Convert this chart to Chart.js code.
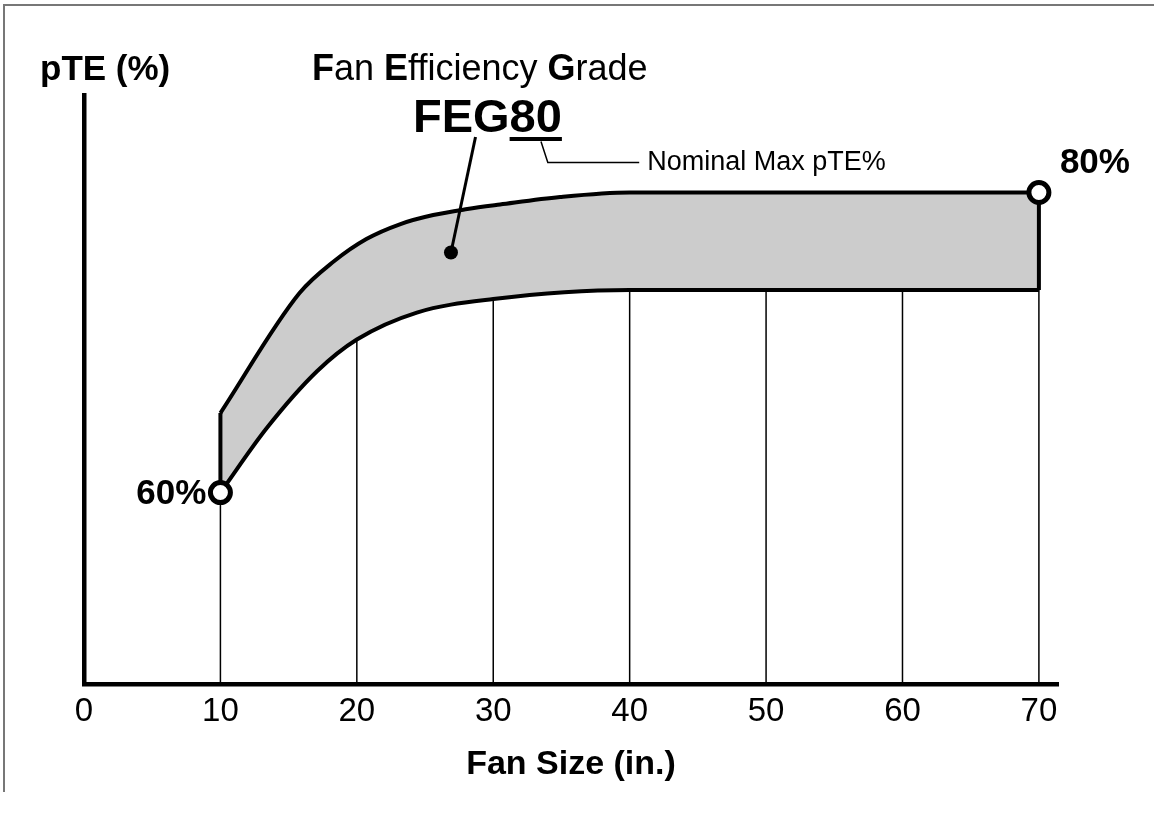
<!DOCTYPE html>
<html>
<head>
<meta charset="utf-8">
<script src="https://cdn.jsdelivr.net/npm/chart.js@4"></script>
<style>
  body { margin: 0; background: #fff; }
  #wrap { position: relative; width: 1154px; height: 813px; }
  #frame { position: absolute; left: 3px; top: 4px; width: 1151px; height: 786px;
           border-top: 2px solid #777; border-left: 2px solid #777; }
</style>
</head>
<body>
<div id="wrap">
  <div id="frame"></div>
  <canvas id="myChart"></canvas>
</div>
<script>
// fan size (in.) and pTE (%)
var upperX = [10, 15.8, 18.3, 20.7, 23.2, 25.6, 28.1, 30.5, 34.9, 40, 50, 60, 70];
var upperY = [65.3, 73.3, 75.4, 76.9, 77.9, 78.5, 78.9, 79.2, 79.7, 80, 80, 80, 80];
var lowerX = [10, 13.4, 17.1, 20, 24.4, 30, 40, 50, 60, 70];
var lowerY = [60, 64.3, 68.1, 70.2, 72.0, 72.9, 73.5, 73.5, 73.5, 73.5];
var xTicks = [0, 10, 20, 30, 40, 50, 60, 70];
var gridX = [10, 20, 30, 40, 50, 60, 70];
var yMin = 47.2, yMax = 86.5, xMin = 0, xMax = 71.4;

// annotation anchors (data space)
var pointerDot = {x: 26.9, y: 76.0};
var pointerTop = {x: 28.7, y: 83.7};
var leader = [{x: 33.5, y: 83.4}, {x: 34.0, y: 82.0}, {x: 40.7, y: 82.0}];

function pts(xs, ys) {
  var out = [];
  for (var i = 0; i < xs.length; i++) out.push({x: xs[i], y: ys[i]});
  return out;
}
function lowerAt(t) {
  var k = lowerX.indexOf(t);
  return lowerY[k];
}

var datasets = [];

// band: upper curve fills down to the lower curve
datasets.push({
  data: pts(upperX, upperY), borderColor: "#000", borderWidth: 4,
  backgroundColor: "#cccccc", fill: "+1", pointRadius: 0,
  cubicInterpolationMode: "monotone", order: 2
});
datasets.push({
  data: pts(lowerX, lowerY), borderColor: "#000", borderWidth: 4,
  fill: false, pointRadius: 0, cubicInterpolationMode: "monotone", order: 2
});

// end edges of the band
var nU = upperX.length - 1, nL = lowerX.length - 1;
datasets.push({
  data: [{x: lowerX[0], y: lowerY[0]}, {x: upperX[0], y: upperY[0]}],
  borderColor: "#000", borderWidth: 4, pointRadius: 0, fill: false, order: 2
});
datasets.push({
  data: [{x: lowerX[nL], y: lowerY[nL]}, {x: upperX[nU], y: upperY[nU]}],
  borderColor: "#000", borderWidth: 4, pointRadius: 0, fill: false, order: 2
});

// vertical lines from the axis up to the lower curve
for (var g = 0; g < gridX.length; g++) {
  datasets.push({
    data: [{x: gridX[g], y: yMin}, {x: gridX[g], y: lowerAt(gridX[g])}],
    borderColor: "#000", borderWidth: 1.5, pointRadius: 0, fill: false, order: 5
  });
}

// open circles at 60% and 80%
datasets.push({
  data: [{x: lowerX[0], y: lowerY[0]}, {x: upperX[nU], y: upperY[nU]}],
  showLine: false, pointRadius: 10, pointBorderWidth: 5,
  pointBorderColor: "#000", pointBackgroundColor: "#fff", fill: false, order: 0
});

var annot = {
  id: "annot",
  afterDatasetsDraw: function(chart) {
    var ctx = chart.ctx;
    var xs = chart.scales.x, ys = chart.scales.y;
    function px(p) { return [xs.getPixelForValue(p.x), ys.getPixelForValue(p.y)]; }
    ctx.save();
    ctx.fillStyle = "#000";
    ctx.strokeStyle = "#000";

    // pointer to the band
    var a = px(pointerDot), b = px(pointerTop);
    ctx.lineWidth = 3;
    ctx.beginPath(); ctx.moveTo(a[0], a[1]); ctx.lineTo(b[0], b[1]); ctx.stroke();
    ctx.beginPath(); ctx.arc(a[0], a[1], 7, 0, Math.PI * 2); ctx.fill();

    // leader to "Nominal Max pTE%"
    ctx.lineWidth = 1.5;
    ctx.beginPath();
    for (var i = 0; i < leader.length; i++) {
      var q = px(leader[i]);
      if (i === 0) ctx.moveTo(q[0], q[1]); else ctx.lineTo(q[0], q[1]);
    }
    ctx.stroke();
    var lastQ = px(leader[leader.length - 1]);
    ctx.font = "27px 'Liberation Sans', Arial, sans-serif";
    ctx.textBaseline = "middle";
    ctx.textAlign = "left";
    ctx.fillText("Nominal Max pTE%", lastQ[0] + 8, lastQ[1]);

    // point labels
    ctx.font = "bold 35px 'Liberation Sans', Arial, sans-serif";
    var p60 = px({x: lowerX[0], y: lowerY[0]});
    ctx.textAlign = "right";
    ctx.fillText("60%", p60[0] - 14, p60[1] + 2);
    var p80 = px({x: upperX[nU], y: upperY[nU]});
    ctx.textAlign = "left";
    ctx.fillText("80%", p80[0] + 21, p80[1] - 29);

    // titles
    ctx.textBaseline = "alphabetic";
    ctx.font = "bold 35px 'Liberation Sans', Arial, sans-serif";
    ctx.fillText("pTE (%)", 40, 80);

    var parts = [["F", true], ["an ", false], ["E", true], ["fficiency ", false], ["G", true], ["rade", false]];
    var cx = 312;
    for (var k = 0; k < parts.length; k++) {
      ctx.font = (parts[k][1] ? "bold " : "") + "36px 'Liberation Sans', Arial, sans-serif";
      ctx.fillText(parts[k][0], cx, 80);
      cx += ctx.measureText(parts[k][0]).width;
    }

    ctx.font = "bold 47px 'Liberation Sans', Arial, sans-serif";
    var feg = "FEG", num = "80";
    var fx = 413;
    ctx.fillText(feg, fx, 132);
    var nx = fx + ctx.measureText(feg).width;
    ctx.fillText(num, nx, 132);
    var nw = ctx.measureText(num).width;
    ctx.fillRect(nx, 137, nw, 4);
    ctx.restore();
  }
};

new Chart("myChart", {
  type: "line",
  data: { datasets: datasets },
  options: {
    responsive: true,
    maintainAspectRatio: false,
    animation: false,
    devicePixelRatio: 1,
    layout: { padding: { left: 76, right: 96, top: 95, bottom: 28 } },
    plugins: {
      legend: { display: false },
      tooltip: { enabled: false },
      filler: { drawTime: "beforeDatasetsDraw" }
    },
    scales: {
      x: {
        type: "linear", min: xMin, max: xMax,
        grid: { display: false },
        border: { display: true, color: "#000", width: 4.5 },
        afterBuildTicks: function(axis) {
          axis.ticks = xTicks.map(function(v) { return {value: v}; });
        },
        ticks: {
          color: "#000", padding: 0,
          font: { family: "'Liberation Sans', Arial, sans-serif", size: 33 }
        },
        title: {
          display: true, text: "Fan Size (in.)", color: "#000",
          padding: { top: 12, bottom: 0 },
          font: { family: "'Liberation Sans', Arial, sans-serif", size: 34, weight: "bold" }
        }
      },
      y: {
        type: "linear", min: yMin, max: yMax,
        grid: { display: false },
        border: { display: true, color: "#000", width: 4.5 },
        ticks: { display: false }
      }
    }
  },
  plugins: [annot]
});
</script>
</body>
</html>
